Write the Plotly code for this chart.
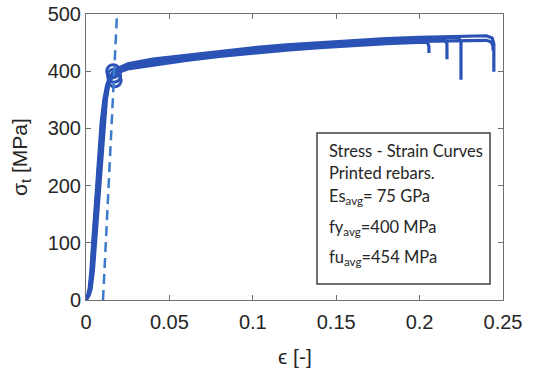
import plotly.graph_objects as go

# ---- data ----
eps_A = [0, 0.0012, 0.0022, 0.0032, 0.0043, 0.0055, 0.0067, 0.0081, 0.0094, 0.0110, 0.0127, 0.0148, 0.0178, 0.0250, 0.040, 0.060, 0.080, 0.100, 0.120, 0.140, 0.160, 0.180, 0.195, 0.2045, 0.2056, 0.2056]
sig_A = [0, 8, 20, 50, 100, 150, 200, 262, 310, 350, 372, 386, 396, 404, 411, 419, 426, 432, 437, 441, 445, 448, 450, 451, 444, 432]

eps_B = [0, 0.0016, 0.0027, 0.0039, 0.0051, 0.0064, 0.0077, 0.0091, 0.0103, 0.0118, 0.0133, 0.0153, 0.0183, 0.0250, 0.040, 0.060, 0.080, 0.100, 0.120, 0.140, 0.160, 0.180, 0.200, 0.2150, 0.2164, 0.2164]
sig_B = [0, 8, 20, 50, 100, 150, 200, 262, 310, 350, 374, 389, 399, 407, 414, 422, 429, 435, 440, 444, 448, 451, 454, 455, 448, 421]

eps_C = [0, 0.0010, 0.0019, 0.0029, 0.0040, 0.0052, 0.0064, 0.0078, 0.0091, 0.0107, 0.0124, 0.0146, 0.0176, 0.0250, 0.040, 0.060, 0.080, 0.100, 0.120, 0.140, 0.160, 0.180, 0.200, 0.2230, 0.2248, 0.2248]
sig_C = [0, 8, 20, 50, 100, 150, 200, 262, 310, 350, 376, 392, 402, 410, 418, 425, 432, 438, 443, 447, 451, 454, 457, 459, 452, 385]

eps_D = [0, 0.0019, 0.0031, 0.0044, 0.0057, 0.0070, 0.0083, 0.0096, 0.0108, 0.0122, 0.0137, 0.0156, 0.0186, 0.0250, 0.040, 0.060, 0.080, 0.100, 0.120, 0.140, 0.160, 0.180, 0.200, 0.220, 0.2400, 0.2435, 0.2445, 0.2445]
sig_D = [0, 8, 20, 50, 100, 150, 200, 262, 310, 350, 378, 394, 404, 413, 421, 428, 435, 441, 446, 450, 454, 457, 459, 461, 462, 458, 448, 399]

eps_E = [0, 0.0014, 0.0024, 0.0035, 0.0047, 0.0060, 0.0073, 0.0087, 0.0099, 0.0114, 0.0129, 0.0149, 0.0179, 0.0250, 0.040, 0.060, 0.080, 0.100, 0.120, 0.140, 0.160, 0.180, 0.200, 0.220, 0.2400, 0.2430, 0.2440, 0.2440]
sig_E = [0, 8, 20, 50, 100, 150, 200, 262, 310, 350, 373, 388, 398, 406, 413, 421, 428, 434, 439, 443, 447, 450, 452, 453, 454, 451, 444, 436]

yield_eps = [0.0163, 0.0168, 0.0172]
yield_sig = [400, 392, 384]

modulus_eps = [0.0102, 0.0186]
modulus_sig = [0, 500]

x_ticks = [0, 0.05, 0.1, 0.15, 0.2, 0.25]
x_ticklabels = ["0", "0.05", "0.1", "0.15", "0.2", "0.25"]
y_ticks = [0, 100, 200, 300, 400, 500]

x_title = "ϵ [-]"
y_title = "σ<sub>t</sub> [MPa]"

box_lines = [
    "Stress - Strain Curves",
    "Printed rebars.",
    "Es<sub>avg</sub>= 75 GPa",
    "fy<sub>avg</sub>=400 MPa",
    "fu<sub>avg</sub>=454 MPa",
]

CURVE = "#2B52B5"
DASH = "#3C7ACB"
AX = "#707070"
TXT = "#262626"
SANS = "Liberation Sans"

fig = go.Figure()
for ex, sy in [(eps_A, sig_A), (eps_B, sig_B), (eps_C, sig_C), (eps_D, sig_D), (eps_E, sig_E)]:
    fig.add_trace(go.Scatter(x=ex, y=sy, mode="lines",
                             line=dict(color=CURVE, width=3.2), showlegend=False))

fig.add_trace(go.Scatter(x=yield_eps, y=yield_sig, mode="markers",
                         marker=dict(symbol="circle-open", size=13, color=CURVE,
                                     line=dict(color=CURVE, width=3)),
                         showlegend=False))

fig.add_trace(go.Scatter(x=modulus_eps, y=modulus_sig, mode="lines",
                         line=dict(color=DASH, width=2.5, dash="10px,6px"), showlegend=False))

fig.update_xaxes(range=[0, 0.25], tickvals=x_ticks, ticktext=x_ticklabels,
                 ticks="inside", ticklen=5, tickcolor=AX, showline=True, linecolor=AX,
                 linewidth=1, mirror="allticks", showgrid=False, zeroline=False,
                 ticklabelstandoff=4, automargin=False, ticklabeloverflow="allow",
                 tickfont=dict(family=SANS, size=20, color=TXT))
fig.update_yaxes(range=[0, 500], tickvals=y_ticks,
                 ticks="inside", ticklen=5, tickcolor=AX, showline=True, linecolor=AX,
                 linewidth=1, mirror="allticks", showgrid=False, zeroline=False,
                 automargin=False, ticklabeloverflow="allow",
                 tickfont=dict(family=SANS, size=20, color=TXT))

# axis titles (screen px -> paper coords; plot area spans x 86..503, y 14..300)
fig.add_annotation(xref="paper", yref="paper", x=0.5, y=(300 - 356) / 286,
                   text=x_title, showarrow=False, xanchor="center", yanchor="middle",
                   font=dict(family=SANS, size=21, color=TXT))
fig.add_annotation(xref="paper", yref="paper", x=(21 - 86) / 417, y=(300 - 157) / 286,
                   text=y_title, showarrow=False, xanchor="center", yanchor="middle",
                   textangle=-90, font=dict(family=SANS, size=21, color=TXT))

# text box
fig.add_shape(type="rect", xref="paper", yref="paper",
              x0=(317 - 86) / 417, x1=(490 - 86) / 417,
              y0=(300 - 284) / 286, y1=(300 - 133) / 286,
              line=dict(color="#404040", width=1.5), fillcolor="white", layer="above")

line_y = [151, 172.5, 197, 227, 257]
for txt, py in zip(box_lines, line_y):
    fig.add_annotation(xref="paper", yref="paper", x=(327 - 86) / 417, y=(300 - py) / 286,
                       text=txt, showarrow=False, xanchor="left", yanchor="middle",
                       font=dict(family="Lato", size=16.5, color=TXT))

fig.update_layout(width=536, height=370, margin=dict(l=86, r=33, t=14, b=70, autoexpand=False),
                  plot_bgcolor="white", paper_bgcolor="white")

fig.write_html("out.html", config={"displayModeBar": False},
               post_script="document.body.style.margin='0';document.body.style.padding='0';")
